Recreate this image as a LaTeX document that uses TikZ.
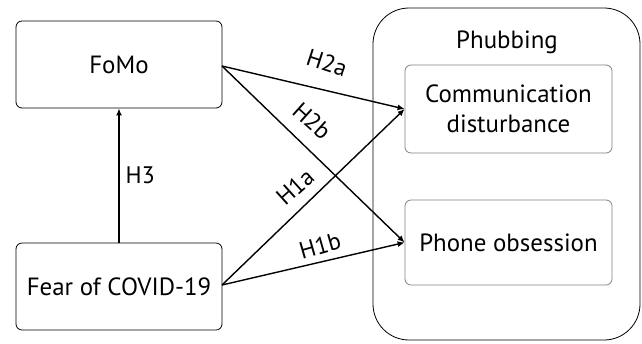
\documentclass[tikz,border=0pt]{standalone}
\usepackage{fontspec}
\setmainfont{PT Sans}
\usetikzlibrary{arrows.meta}
\begin{document}
\begin{tikzpicture}[x=1bp,y=-1bp,
  box/.style={draw,thick,rounded corners=6bp,inner sep=0pt,font=\fontsize{25}{30}\selectfont,align=center},
  link/.style={draw,line width=1.4pt,-{Latex[length=7bp,width=6bp]}},
  lab/.style={font=\fontsize{24}{26}\selectfont,inner sep=0pt}]
\useasboundingbox (0,0) rectangle (642,343);
\node[box,minimum width=206bp,minimum height=87bp] (fomo) at (119,64.5) {FoMo};
\node[box,minimum width=206bp,minimum height=87bp] (fear) at (119,286.5) {Fear of COVID-19};
\draw[thick,rounded corners=36bp] (373,8) rectangle (640,340);
\node[lab,font=\fontsize{25}{30}\selectfont] (phub) at (507,42) {Phubbing};
\node[box,draw=gray,minimum width=207bp,minimum height=88bp] (comm) at (508.5,109) {Communication\\disturbance};
\node[box,draw=gray,minimum width=207bp,minimum height=85bp] (phone) at (508.5,242.5) {Phone obsession};
\draw[link] (fear.north) -- node[lab,right,xshift=6bp] {H3} (fomo.south);
\coordinate (fomoR) at (222,66);
\coordinate (fearR) at (222,285);
\draw[link] (fomoR) -- (comm.west);
\draw[link] (fomoR) -- (phone.west);
\draw[link] (fearR) -- (comm.west);
\draw[link] (fearR) -- (phone.west);
\node[lab,rotate=-18] (h2a) at (327,63) {H2a};
\node[lab,rotate=-42] (h2b) at (312,121) {H2b};
\node[lab,rotate=42] (h1a) at (295,187) {H1a};
\node[lab,rotate=16] (h1b) at (320,246) {H1b};
\end{tikzpicture}
\end{document}
